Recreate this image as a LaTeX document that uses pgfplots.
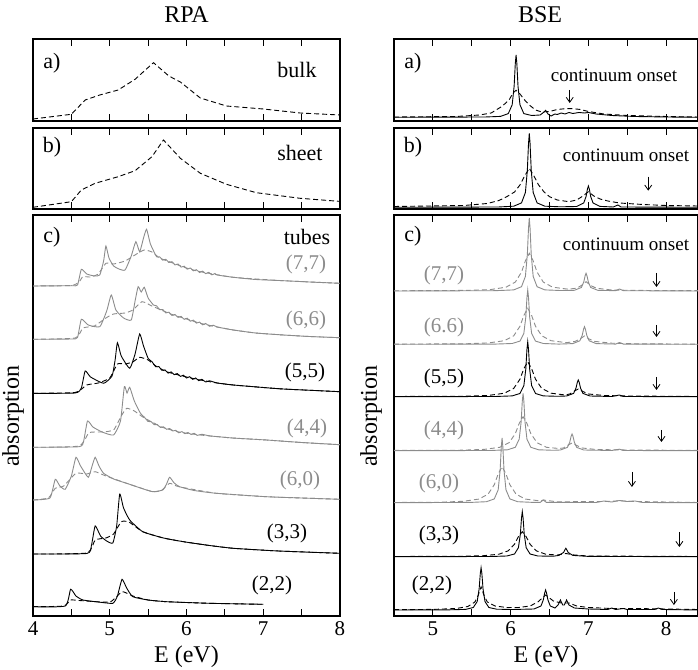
\documentclass[border=0pt]{standalone}
\usepackage{fontspec}
\setmainfont{Liberation Serif}
\usepackage{pgfplots}
\pgfplotsset{compat=1.18}
\usetikzlibrary{arrows.meta}
\definecolor{g}{RGB}{140,140,140}
\tikzset{arr/.style={-{Straight Barb[length=5pt,width=7pt]}, line width=0.8pt, black}}
\pgfplotsset{
  panel/.style={scale only axis, ymin=0, ytick=\empty,
    axis line style={line width=1.1pt},
    tick style={line width=0.8pt, black},
    major tick length=7pt, minor tick length=7pt, tick align=inside,
    /pgf/number format/assume math mode=true,
    xticklabel style={font=\fontsize{21}{24}\selectfont, yshift=-2pt}},
  L/.style={panel, xmin=4, xmax=8, width=307pt, xtick={4,5,6,7,8}, minor xtick={4.5,5.5,6.5,7.5}},
  R/.style={panel, xmin=4.5, xmax=8.41, width=304pt, xtick={5,6,7,8}, minor xtick={4.5,5.5,6.5,7.5}},
  sol/.style={line width=0.9pt, no markers},
  das/.style={line width=0.9pt, no markers, dash pattern=on 5pt off 3pt},
}
\begin{document}
\begin{tikzpicture}[x=1pt,y=1pt]
\useasboundingbox (0,0) rectangle (698,669);
% ---------------- RPA a) bulk
\begin{axis}[L, at={(33pt,548pt)}, anchor=south west, height=82pt, ymax=82, xticklabels={}]
\addplot[das, black] coordinates {(4.0,2)(4.5,6.7)(4.68,21)(4.87,26)(5.11,31)(5.33,41.7)(5.57,58.3)(5.77,45)(5.92,39)(6.18,23)(6.52,15)(7.0,12)(7.48,8)(8.0,6)};
\end{axis}
% ---------------- RPA b) sheet
\begin{axis}[L, at={(33pt,460pt)}, anchor=south west, height=81pt, ymax=81, xticklabels={}]
\addplot[das, black] coordinates {(4.0,1.7)(4.5,7.3)(4.63,19)(4.81,25.7)(5.11,32.3)(5.33,38.3)(5.55,52.3)(5.70,69)(5.92,50.7)(6.18,35.7)(6.52,24.7)(6.91,16.3)(7.48,10.7)(8.0,7.6)};
\end{axis}
% ---------------- RPA c) tubes
\begin{axis}[L, at={(33pt,53pt)}, anchor=south west, height=401pt, ymax=401, every axis plot/.append style={smooth, tension=0.3}]
% (7,7)
\addplot[sol, g] coordinates {(4.0,330)(4.5,330.3)(4.58,331)(4.63,346.7)(4.70,342)(4.80,340)(4.87,341)(4.92,355)(4.95,370)(4.99,358)(5.05,350)(5.12,347)(5.2,346)(5.28,360)(5.34,374.3)(5.39,364.3)(5.44,378)(5.48,386.7)(5.53,372)(5.61,359.3)(5.65,359.1)(5.69,355.9)(5.73,356.7)(5.77,353.5)(5.81,354.3)(5.85,351.1)(5.89,352)(5.93,348.9)(5.97,349.8)(6.01,346.8)(6.05,348)(6.09,345.2)(6.13,346.3)(6.17,343.5)(6.21,344.9)(6.25,342.3)(6.29,343.7)(6.33,341.1)(6.37,342.5)(6.4,341)(6.61,338.7)(6.9,336.5)(7.26,335.3)(7.6,334)(8.0,332.7)};
\addplot[das, g] coordinates {(4.0,330)(4.5,330.5)(4.6,334)(4.65,339.3)(4.75,339)(4.85,342)(4.95,352.7)(5.05,352)(5.2,355)(5.35,362)(5.45,366)(5.55,364)(5.65,358)(5.75,355)(6.0,348)(6.18,344.3)(6.61,338.7)(7.26,335.3)(8.0,332.7)};
% (6,6)
\addplot[sol, g] coordinates {(4.0,276.7)(4.5,277)(4.58,278.5)(4.63,296.7)(4.72,291)(4.87,289.3)(4.96,305)(5.02,321)(5.08,306)(5.18,298)(5.28,296)(5.33,315)(5.37,329.3)(5.41,324)(5.45,328.7)(5.50,318)(5.57,311)(5.61,310.2)(5.65,306.3)(5.69,306.5)(5.73,303.1)(5.77,303.8)(5.81,300.6)(5.85,301.5)(5.89,298.6)(5.93,299.6)(5.97,296.7)(6.01,297.8)(6.05,294.8)(6.09,295.9)(6.13,292.9)(6.17,293.9)(6.21,291.2)(6.25,292.5)(6.3,289.7)(6.35,290.8)(6.4,289)(6.61,286)(6.9,283)(7.26,281)(7.6,279.5)(8.0,278.3)};
\addplot[das, g] coordinates {(4.0,276.7)(4.55,278)(4.65,288)(4.8,290)(4.95,298)(5.05,302)(5.2,303)(5.3,306)(5.42,314.3)(5.55,310)(5.7,305)(5.83,301)(6.0,297)(6.18,292.7)(6.4,289)(6.61,286)(6.9,283)(7.26,281)(7.6,279.5)(8.0,278.3)};
% (5,5)
\addplot[sol, black] coordinates {(4.0,222.7)(4.55,223)(4.63,228)(4.68,245)(4.75,239)(4.92,232.7)(5.03,240)(5.07,256)(5.10,273.3)(5.15,260)(5.26,247.7)(5.33,262)(5.39,282)(5.44,270)(5.50,257.7)(5.55,254.3)(5.6,249.2)(5.64,249.4)(5.68,245.7)(5.72,246.1)(5.76,242.9)(5.8,244.1)(5.84,241.3)(5.88,242.4)(5.92,239.6)(5.96,240.8)(6.0,238)(6.04,239.3)(6.08,236.7)(6.12,238)(6.16,235.3)(6.2,236.7)(6.25,234)(6.3,235.2)(6.4,233)(6.61,231)(7.0,228.5)(7.26,227)(8.0,224.3)};
\addplot[das, black] coordinates {(4.0,222.7)(4.55,223.5)(4.7,231)(4.85,233)(5.0,238)(5.1,252)(5.2,252)(5.3,254)(5.39,258.7)(5.5,256)(5.6,250)(5.74,244.3)(6.0,239)(6.18,236)(6.4,233)(6.61,231)(7.0,228.5)(7.26,227)(8.0,224.3)};
% (4,4)
\addplot[sol, g] coordinates {(4.0,168.7)(4.6,169.3)(4.66,175)(4.71,195)(4.78,189)(4.9,184)(5.05,181)(5.14,195)(5.19,229.3)(5.225,223)(5.26,228.7)(5.32,215)(5.40,202.7)(5.45,198.9)(5.5,194.5)(5.54,194.4)(5.58,191.3)(5.62,191.5)(5.66,188.5)(5.7,189.2)(5.74,186.7)(5.78,187.5)(5.82,185)(5.86,185.7)(5.9,183.2)(5.94,184.4)(5.98,182.3)(6.02,183.5)(6.06,181.5)(6.1,182.7)(6.14,180.6)(6.2,181.7)(6.3,180.1)(6.4,179.4)(6.6,178)(7.04,176)(7.5,173.5)(8.0,171.3)};
\addplot[das, g] coordinates {(4.0,168.7)(4.6,170)(4.73,183.3)(4.9,184)(5.05,186)(5.15,200)(5.22,207.7)(5.32,205)(5.45,198)(5.6,192)(5.66,189.3)(5.9,184)(6.18,181)(6.6,178)(7.04,176)(7.5,173.5)(8.0,171.3)};
% (6,0)
\addplot[sol, g] coordinates {(4.0,116)(4.22,118)(4.29,136.7)(4.35,130)(4.42,126.7)(4.5,140)(4.56,158.7)(4.62,150)(4.72,138.7)(4.77,150)(4.81,158.7)(4.86,150)(4.92,142.7)(5.05,137)(5.22,132.7)(5.4,128)(5.56,124.3)(5.69,126)(5.74,132)(5.78,138.7)(5.84,133)(5.91,129.3)(6.1,125.5)(6.39,122.7)(7.04,119.3)(7.5,118)(8.0,116.7)};
\addplot[das, g] coordinates {(4.0,116)(4.2,118)(4.29,127.7)(4.4,130)(4.56,142.7)(4.7,142)(4.81,144.3)(4.95,140)(5.22,132.7)(5.56,124.3)(5.68,126)(5.78,132.7)(5.9,129.3)(6.39,122.7)(7.04,119.3)(7.5,118)(8.0,116.7)};
% (3,3)
\addplot[sol, black] coordinates {(4.0,62)(4.7,62.5)(4.76,70)(4.81,90)(4.88,80)(4.96,75)(5.04,73)(5.09,90)(5.13,122)(5.18,108)(5.26,96)(5.43,84.3)(5.7,78)(5.96,74.3)(6.3,70.5)(6.61,67.7)(7.2,65)(8.0,62.7)};
\addplot[das, black] coordinates {(4.0,62)(4.7,63)(4.81,76)(4.95,78)(5.05,82)(5.15,94.3)(5.25,94)(5.43,84.3)(5.7,78)(5.96,74.3)(6.3,70.5)(6.61,67.7)(7.2,65)(8.0,62.7)};
% (2,2)
\addplot[sol, black] coordinates {(4.0,9.3)(4.42,10)(4.49,26.7)(4.56,20)(4.65,16)(4.85,14)(5.04,12.7)(5.1,20)(5.16,36.7)(5.22,28)(5.30,19.3)(5.5,16)(5.74,14.3)(6.3,12.7)(7.0,11.7)};
\addplot[das, black] coordinates {(4.0,9.3)(4.4,10)(4.49,16)(4.6,15.5)(5.0,14)(5.16,24.3)(5.3,20)(5.5,16)(5.74,14.3)(6.3,12.7)(7.0,11.7)};
\end{axis}
% ---------------- BSE a)
\begin{axis}[R, at={(394pt,548pt)}, anchor=south west, height=82pt, ymax=82, xticklabels={}]
\addplot[sol, black] coordinates {(4.5,3.7)(5.67,4)(5.87,4.6)(5.97,7.4)(6.02,16.2)(6.045,34.7)(6.06,57.4)(6.07,66)(6.08,57.4)(6.095,34.7)(6.12,16.2)(6.17,7.4)(6.27,5.5)(6.38,6)(6.43,9)(6.45,10.7)(6.48,7)(6.52,5)(6.57,7)(6.6,6.5)(6.65,8)(6.7,7)(6.75,8.5)(6.8,7.5)(6.88,8.5)(6.95,8)(7.0,8.5)(7.1,7)(7.3,5.5)(7.6,4.5)(8.0,4)(8.41,3.7)};
\addplot[das, black] coordinates {(4.5,4)(5.3,4.5)(5.6,6)(5.75,8)(5.89,14.7)(5.98,21)(6.03,28)(6.07,30.7)(6.12,27)(6.18,21)(6.24,16)(6.32,11)(6.40,9)(6.5,9.5)(6.6,11.5)(6.7,12.3)(6.8,12.3)(6.9,11.5)(7.0,9.5)(7.2,7)(7.5,5.5)(8.0,4.5)(8.41,4)};
\draw[arr] (axis cs:6.76,31) -- (axis cs:6.76,18);
\end{axis}
% ---------------- BSE b)
\begin{axis}[R, at={(394pt,460pt)}, anchor=south west, height=81pt, ymax=81, xticklabels={}]
\addplot[sol, black] coordinates {(4.5,1.7)(5.84,2)(6.04,2.8)(6.14,6.1)(6.19,16.5)(6.215,38.7)(6.23,65.5)(6.24,75.7)(6.25,65.5)(6.265,38.7)(6.29,16.5)(6.34,6.1)(6.44,2.8)(6.64,2.2)(6.85,2.5)(6.94,6)(6.97,12.4)(6.988,20)(7.0,23)(7.012,20)(7.03,12.4)(7.06,6)(7.15,2.6)(7.32,2)(7.38,4)(7.42,2)(8.41,1.7)};
\addplot[das, black] coordinates {(4.5,2.5)(5.4,3.5)(5.7,5.5)(5.85,8.5)(5.95,12.3)(6.05,17)(6.12,24)(6.18,33)(6.24,40.7)(6.30,33)(6.36,24)(6.43,17)(6.5,12.3)(6.6,9)(6.75,7.3)(6.85,9)(6.93,13)(7.0,17.3)(7.07,13)(7.15,10)(7.25,8)(7.4,6)(7.7,4.5)(8.0,3.5)(8.41,3)};
\draw[arr] (axis cs:7.77,32.3) -- (axis cs:7.77,18.3);
\end{axis}
% ---------------- BSE c)
\begin{axis}[R, at={(394pt,53pt)}, anchor=south west, height=401pt, ymax=401]
% (7,7)
\addplot[sol, g] coordinates {(4.5,325)(5.8,325.3)(6.04,326.1)(6.14,329.3)(6.19,339.6)(6.215,361.5)(6.23,387.9)(6.24,398)(6.25,387.9)(6.265,361.5)(6.29,339.6)(6.34,329.3)(6.44,326.1)(6.64,325.5)(6.82,325.7)(6.91,328.5)(6.94,333.9)(6.958,340.2)(6.97,342.7)(6.982,340.2)(7.0,333.9)(7.03,328.5)(7.12,325.7)(7.35,325.3)(7.4,327)(7.45,325.3)(8.41,325)};
\addplot[das, g] coordinates {(4.5,325.2)(5.44,325.6)(5.74,326.4)(5.94,328.8)(6.06,333.9)(6.14,343.9)(6.19,355.2)(6.24,362.7)(6.29,355.2)(6.34,343.9)(6.42,333.9)(6.54,328.8)(6.74,326.8)(6.85,327.8)(6.91,330.5)(6.97,334.3)(7.03,330.5)(7.1,327.8)(7.3,326)(7.6,325.6)(8.41,325.3)};
% (6,6)
\addplot[sol, g] coordinates {(4.5,271.7)(5.8,271.9)(6.02,272.5)(6.12,274.9)(6.17,282.6)(6.195,298.9)(6.21,318.5)(6.22,326)(6.23,318.5)(6.245,298.9)(6.27,282.6)(6.32,274.9)(6.42,272.5)(6.62,271.9)(6.80,272.4)(6.89,275.2)(6.92,280.5)(6.938,286.8)(6.95,289.3)(6.962,286.8)(6.98,280.5)(7.01,275.2)(7.1,272.4)(7.35,271.9)(7.4,273.5)(7.45,271.9)(8.41,271.7)};
\addplot[das, g] coordinates {(4.5,271.9)(5.42,272.2)(5.72,273.1)(5.92,275.3)(6.04,280.2)(6.12,289.7)(6.17,300.5)(6.22,307.7)(6.27,300.5)(6.32,289.7)(6.40,280.2)(6.52,275.3)(6.72,273.3)(6.83,274.6)(6.89,277)(6.95,280)(7.01,277)(7.08,274.6)(7.3,272.8)(7.6,272.2)(8.41,271.9)};
% (5,5)
\addplot[sol, black] coordinates {(4.5,219.3)(5.8,219.5)(6.02,220.1)(6.12,222.5)(6.17,230.3)(6.195,246.8)(6.21,266.7)(6.22,274.3)(6.23,266.7)(6.245,246.8)(6.27,230.3)(6.32,222.5)(6.42,220.1)(6.60,219.7)(6.72,220)(6.81,222.6)(6.84,227.7)(6.858,233.7)(6.87,236)(6.882,233.7)(6.90,227.7)(6.93,222.6)(7.02,220)(7.3,219.5)(7.4,221)(7.45,219.5)(8.41,219.3)};
\addplot[das, black] coordinates {(4.5,219.5)(5.42,219.8)(5.72,220.6)(5.92,222.8)(6.04,227.6)(6.12,236.8)(6.17,247.3)(6.22,254.3)(6.27,247.3)(6.32,236.8)(6.40,227.6)(6.52,222.8)(6.70,221)(6.76,222)(6.81,224.5)(6.87,227)(6.93,224.5)(7.0,222)(7.2,220.5)(7.5,220)(8.41,219.5)};
% (4,4)
\addplot[sol, g] coordinates {(4.5,165.3)(5.74,165.5)(5.96,166.2)(6.06,168.7)(6.11,176.8)(6.135,194)(6.15,214.8)(6.16,222.7)(6.17,214.8)(6.185,194)(6.21,176.8)(6.26,168.7)(6.36,166.2)(6.55,165.7)(6.64,166)(6.73,168.6)(6.76,173.7)(6.778,179.7)(6.79,182)(6.802,179.7)(6.82,173.7)(6.85,168.6)(6.94,166)(7.3,165.5)(7.4,166.8)(7.45,165.5)(8.41,165.3)};
\addplot[das, g] coordinates {(4.5,165.6)(5.36,165.8)(5.66,166.6)(5.86,168.7)(5.98,173.3)(6.06,182.3)(6.11,192.5)(6.16,199.3)(6.21,192.5)(6.26,182.3)(6.34,173.3)(6.46,168.7)(6.62,167.5)(6.68,168)(6.73,170.5)(6.79,173)(6.85,170.5)(6.92,168)(7.1,166.5)(7.5,166)(8.41,165.6)};
% (6,0)
\addplot[sol, g] coordinates {(4.5,113.3)(5.49,113.6)(5.69,114.3)(5.79,117.1)(5.84,126.2)(5.865,145.7)(5.88,169.1)(5.89,178)(5.90,169.1)(5.915,145.7)(5.94,126.2)(5.99,117.1)(6.09,114.3)(6.29,113.6)(6.38,113.6)(6.42,116)(6.46,113.6)(7.1,113.5)(7.2,115)(7.3,114)(7.4,115.5)(7.5,114.5)(7.6,115)(7.7,113.5)(8.41,113.3)};
\addplot[das, g] coordinates {(4.5,113.5)(5.09,113.8)(5.39,114.7)(5.59,116.9)(5.71,121.8)(5.79,131.3)(5.84,142.1)(5.89,149.3)(5.94,142.1)(5.99,131.3)(6.07,121.8)(6.19,116.9)(6.39,115)(6.42,116)(6.6,114.2)(7.2,114.5)(7.4,115.2)(7.6,114.5)(8.41,113.5)};
% (3,3)
\addplot[sol, black] coordinates {(4.5,59.3)(5.75,59.5)(5.95,60)(6.05,62)(6.10,68.3)(6.125,81.8)(6.14,98.1)(6.15,104.3)(6.16,98.1)(6.175,81.8)(6.20,68.3)(6.25,62)(6.35,60)(6.55,59.8)(6.62,60.6)(6.68,63.5)(6.70,66.5)(6.71,67.7)(6.72,66.5)(6.74,63.5)(6.80,60.6)(7.0,59.6)(8.41,59.3)};
\addplot[das, black] coordinates {(4.5,59.5)(5.35,59.7)(5.65,60.3)(5.85,61.8)(5.97,65.2)(6.05,71.8)(6.10,79.3)(6.15,84.3)(6.20,79.3)(6.25,71.8)(6.33,65.2)(6.45,61.8)(6.6,61)(6.71,62.5)(6.82,61)(7.0,60)(8.41,59.5)};
% (2,2)
\addplot[sol, black] coordinates {(4.5,6)(5.22,6.2)(5.42,6.6)(5.52,8.5)(5.57,14.5)(5.595,27.2)(5.61,42.5)(5.62,48.3)(5.63,42.5)(5.645,27.2)(5.67,14.5)(5.72,8.5)(5.82,6.8)(6.02,6.5)(6.3,7)(6.39,10)(6.42,16)(6.438,23)(6.45,26)(6.462,23)(6.48,16)(6.51,10)(6.57,8)(6.61,11)(6.64,16)(6.67,11)(6.69,11)(6.72,16)(6.75,11)(6.82,8)(7.0,7)(7.25,6.5)(7.3,8)(7.35,6.5)(7.45,7.5)(7.5,6.5)(7.85,6.5)(7.9,8)(7.95,6.5)(8.41,6)};
\addplot[das, black] coordinates {(4.5,6.3)(5.0,6.6)(5.3,7.5)(5.45,9.5)(5.54,14)(5.58,20)(5.62,29.3)(5.66,20)(5.70,14)(5.80,10)(5.95,8.5)(6.1,8.5)(6.25,10)(6.35,14)(6.45,21)(6.55,15)(6.65,13)(6.75,13)(6.85,10)(7.0,8.5)(7.3,7.5)(7.6,7.5)(8.0,7)(8.41,6.5)};
\draw[arr] (axis cs:7.876,343) -- (axis cs:7.876,329);
\draw[arr] (axis cs:7.876,291) -- (axis cs:7.876,279);
\draw[arr] (axis cs:7.876,239) -- (axis cs:7.876,226);
\draw[arr] (axis cs:7.94,186) -- (axis cs:7.94,174);
\draw[arr] (axis cs:7.56,144) -- (axis cs:7.56,129);
\draw[arr] (axis cs:8.17,84) -- (axis cs:8.17,69);
\draw[arr] (axis cs:8.10,24) -- (axis cs:8.10,11);
\end{axis}
% ---------------- texts
\node[font=\fontsize{24}{28}\selectfont] at (186.5,654) {RPA};
\node[font=\fontsize{24}{28}\selectfont] at (540,654) {BSE};
\node[font=\fontsize{24}{28}\selectfont] at (186.5,12) {E (eV)};
\node[font=\fontsize{24}{28}\selectfont] at (546,12) {E (eV)};
\node[font=\fontsize{24}{28}\selectfont, rotate=90] at (13,253) {absorption};
\node[font=\fontsize{24}{28}\selectfont, rotate=90] at (371,253) {absorption};
\begin{scope}[every node/.style={font=\fontsize{22}{26}\selectfont}]
\node at (52,606) {a)};
\node at (297,599) {bulk};
\node at (52,522) {b)};
\node at (300,516) {sheet};
\node at (52,432) {c)};
\node at (307,432) {tubes};
\node at (413,606) {a)};
\node at (413,522) {b)};
\node at (413,433) {c)};
\end{scope}
\begin{scope}[every node/.style={font=\fontsize{19}{22}\selectfont}]
\node at (614,594) {continuum onset};
\node at (626,514) {continuum onset};
\node at (626,425) {continuum onset};
\end{scope}
\begin{scope}[every node/.style={font=\fontsize{21}{24}\selectfont}]
\node[text=g] at (306,405) {(7,7)};
\node[text=g] at (306,349) {(6,6)};
\node at (305,297) {(5,5)};
\node[text=g] at (307,241) {(4,4)};
\node[text=g] at (300,189) {(6,0)};
\node at (287,136) {(3,3)};
\node at (272,84) {(2,2)};
\node[text=g] at (444,394) {(7,7)};
\node[text=g] at (444,342) {(6.6)};
\node at (444,291) {(5,5)};
\node[text=g] at (444,239) {(4,4)};
\node[text=g] at (439,186) {(6,0)};
\node at (439,134) {(3,3)};
\node at (432,84) {(2,2)};
\end{scope}
\end{tikzpicture}
\end{document}
